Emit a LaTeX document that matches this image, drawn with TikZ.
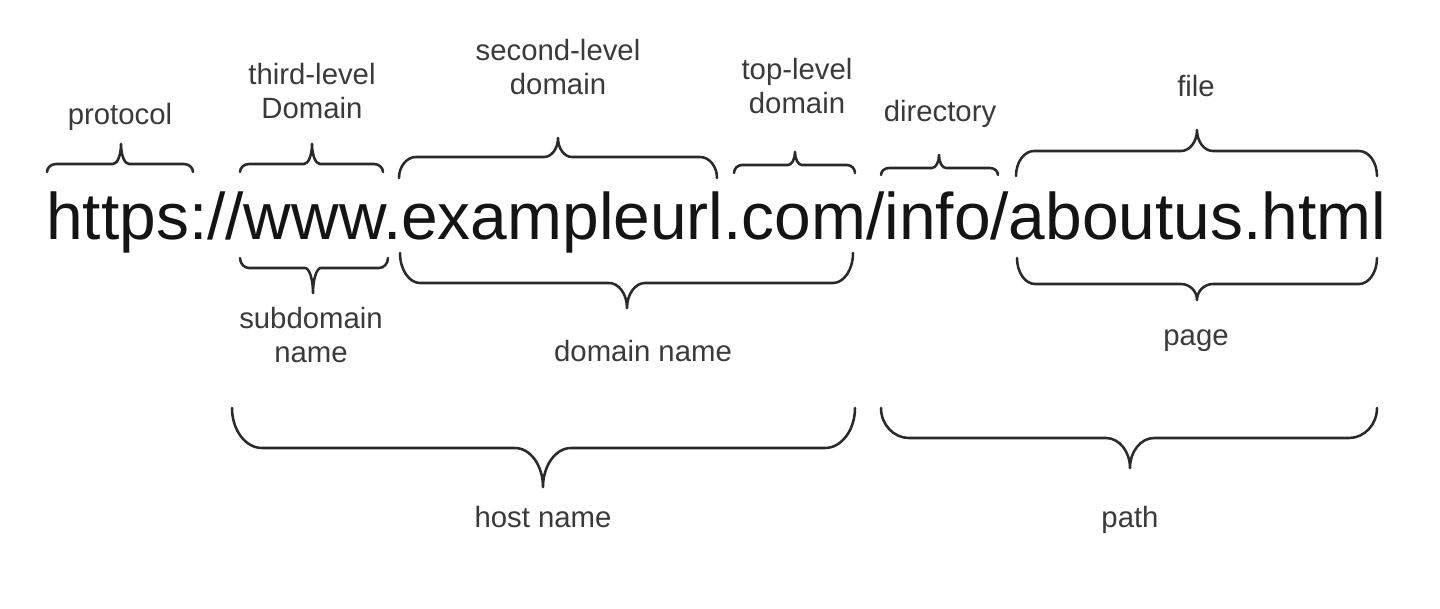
\documentclass[tikz,border=0pt]{standalone}
\usepackage{fontspec}
\setmainfont{Liberation Sans}
\definecolor{labelgray}{HTML}{3A3A3A}
\definecolor{urlblack}{HTML}{141414}
\definecolor{bracegray}{HTML}{2A2A2A}
\tikzset{
  bracestyle/.style={draw=bracegray, line width=1.9pt, line join=round, line cap=round},
  lbl/.style={text=labelgray, font=\fontsize{22}{25.5}\selectfont, align=center, inner sep=0pt},
  urltext/.style={text=urlblack, font=\fontsize{49.4}{58}\selectfont, inner sep=0pt, anchor=base west}
}
% x1, x2, y-end, y-horizontal, y-tip, x-centre, corner, tip half-width
\newcommand\urlbrace[8]{%
  \draw[bracestyle] (#1,#3) .. controls (#1,{#3+0.55*(#4-#3)}) and ({#1+0.45*#7},#4) .. ({#1+#7},#4)
    -- ({#6-#8},#4) .. controls ({#6-0.45*#8},#4) and (#6,{#4+0.45*(#5-#4)}) .. (#6,#5)
    .. controls (#6,{#4+0.45*(#5-#4)}) and ({#6+0.45*#8},#4) .. ({#6+#8},#4)
    -- ({#2-#7},#4) .. controls ({#2-0.45*#7},#4) and (#2,{#3+0.55*(#4-#3)}) .. (#2,#3);}
\begin{document}
\begin{tikzpicture}[x=0.75pt,y=-0.75pt]
\useasboundingbox[fill=white] (0,0) rectangle (1440,608);
\node[urltext] (url) at (46,239) {https://www.exampleurl.com/info/aboutus.html};
% braces above
\urlbrace{47}{193}{172}{164}{144}{121}{9}{8}
\urlbrace{240}{383}{172}{164}{144}{312}{9}{8}
\urlbrace{399}{717}{178}{157}{138}{558}{17}{14}
\urlbrace{734}{855}{173}{165}{152}{795}{8}{7}
\urlbrace{881}{998}{175}{168}{155}{939}{8}{7}
\urlbrace{1016}{1377}{176}{151}{130}{1197}{18}{16}
% braces below
\urlbrace{240}{388}{258}{268}{293}{313}{9}{8}
\urlbrace{400}{853}{253}{283}{308}{627}{20}{18}
\urlbrace{1017}{1377}{258}{284}{300}{1197}{18}{16}
\urlbrace{232}{855}{408}{448}{487}{543}{30}{28}
\urlbrace{881}{1377}{408}{438}{468}{1130}{28}{24}
% labels
\node[lbl] (protocol) at (120,117) {protocol};
\node[lbl] (third) at (312,91) {third-level\\Domain};
\node[lbl] (second) at (558,67) {second-level\\domain};
\node[lbl] (top) at (797,86) {top-level\\domain};
\node[lbl] (dir) at (940,114) {directory};
\node[lbl] (file) at (1196,86) {file};
\node[lbl] (sub) at (311,335) {subdomain\\name};
\node[lbl] (domain) at (643,351) {domain name};
\node[lbl] (page) at (1196,341) {page};
\node[lbl] (host) at (543,517) {host name};
\node[lbl] (path) at (1130,520) {path};
\end{tikzpicture}
\end{document}
